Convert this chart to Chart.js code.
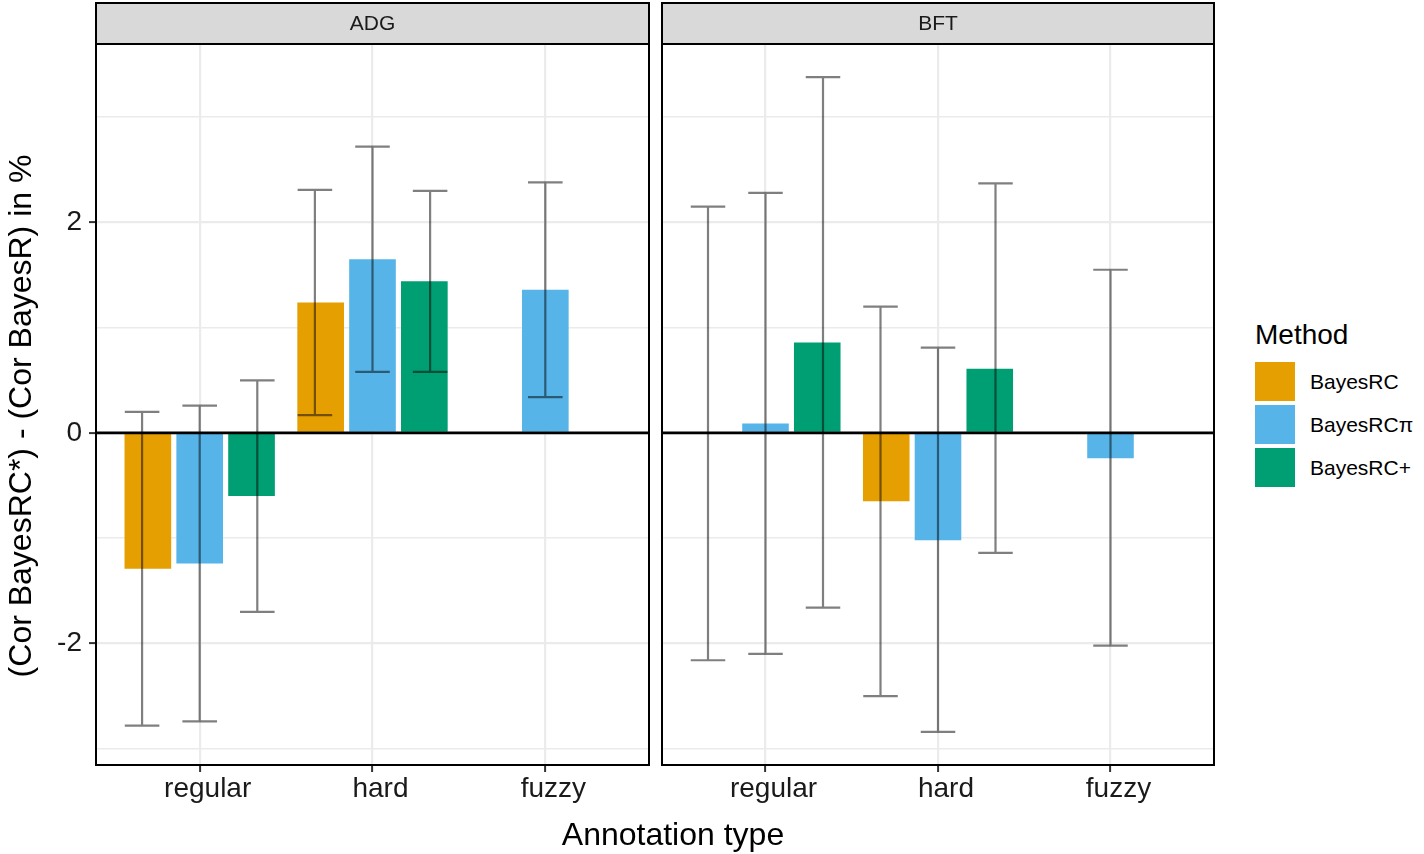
<!DOCTYPE html>
<html>
<head>
<meta charset="utf-8">
<script src="https://cdn.jsdelivr.net/npm/chart.js@4.4.1/dist/chart.umd.min.js"></script>
<style>
  body{margin:0;background:#fff;width:1424px;height:854px;position:relative;overflow:hidden;
       font-family:"Liberation Sans",Arial,Helvetica,sans-serif;color:#000}
  canvas{position:absolute;top:0}
  #cA{left:0}
  #cB{left:656px}
  #xtitle{position:absolute;left:0;width:1346px;top:818px;text-align:center;font-size:32px;line-height:32px}
  #ytitle{position:absolute;left:20px;top:416px;width:700px;margin-left:-350px;margin-top:-16px;
          text-align:center;font-size:32px;line-height:32px;transform:rotate(-90deg);white-space:nowrap}
  .leg{position:absolute;white-space:nowrap}
</style>
</head>
<body>
<canvas id="cA" width="656" height="854"></canvas>
<canvas id="cB" width="565" height="854"></canvas>
<div id="xtitle">Annotation type</div>
<div id="ytitle">(Cor BayesRC*) - (Cor BayesR) in %</div>
<div id="legend"></div>
<script>
// ---- data ----
const categories = ['regular', 'hard', 'fuzzy'];
const methods = ['BayesRC', 'BayesRCπ', 'BayesRC+'];
const panels = ['ADG', 'BFT'];
const colors = ['#E69F00', '#56B4E9', '#009E73'];

// ADG: mean difference and interval per method (regular, hard, fuzzy)
const adgBayesRC      = [-1.29, 1.24, null];
const adgBayesRCpi    = [-1.24, 1.65, 1.36];
const adgBayesRCplus  = [-0.60, 1.44, null];
const adgLowBayesRC     = [-2.78, 0.17, null];
const adgHighBayesRC    = [ 0.20, 2.31, null];
const adgLowBayesRCpi   = [-2.74, 0.58, 0.34];
const adgHighBayesRCpi  = [ 0.26, 2.72, 2.38];
const adgLowBayesRCplus = [-1.70, 0.58, null];
const adgHighBayesRCplus= [ 0.50, 2.30, null];

// BFT
const bftBayesRC      = [-0.01, -0.65, null];
const bftBayesRCpi    = [ 0.09, -1.02, -0.24];
const bftBayesRCplus  = [ 0.86,  0.61, null];
const bftLowBayesRC     = [-2.16, -2.50, null];
const bftHighBayesRC    = [ 2.15,  1.20, null];
const bftLowBayesRCpi   = [-2.10, -2.84, -2.02];
const bftHighBayesRCpi  = [ 2.28,  0.81,  1.55];
const bftLowBayesRCplus = [-1.66, -1.14, null];
const bftHighBayesRCplus= [ 3.38,  2.37, null];

const xTicks = [1, 2, 3];
const yTicks = [-3, -2, -1, 0, 1, 2, 3];
const yLabeled = [-2, 0, 2];

// ---- style ----
const DODGE = 1 / 3;     // error-bar dodge in x units
const CAP = 0.2;         // error-bar cap width in x units
const GRID = '#EBEBEB';
Chart.defaults.font.family = '"Liberation Sans", Arial, Helvetica, sans-serif';
Chart.defaults.color = '#1a1a1a';

const panelDeco = {
  id: 'panelDeco',
  afterDatasetsDraw(chart, args, opts) {
    const {ctx, chartArea: a, scales: {x, y}} = chart;
    ctx.save();
    const y0 = y.getPixelForValue(0);
    ctx.strokeStyle = '#000'; ctx.lineWidth = 2.7;
    ctx.beginPath(); ctx.moveTo(a.left, y0); ctx.lineTo(a.right, y0); ctx.stroke();

    ctx.strokeStyle = 'rgba(0,0,0,0.5)'; ctx.lineWidth = 2.2;
    opts.lows.forEach((lows, i) => {
      lows.forEach((lo, j) => {
        const hi = opts.highs[i][j];
        if (lo == null || hi == null) return;
        const xv = xTicks[j] + (i - 1) * DODGE;
        const px = x.getPixelForValue(xv);
        const hw = x.getPixelForValue(xv + CAP / 2) - px;
        const yl = y.getPixelForValue(lo), yh = y.getPixelForValue(hi);
        ctx.beginPath();
        ctx.moveTo(px - hw, yh); ctx.lineTo(px + hw, yh);
        ctx.moveTo(px, yh); ctx.lineTo(px, yl);
        ctx.moveTo(px - hw, yl); ctx.lineTo(px + hw, yl);
        ctx.stroke();
      });
    });

    ctx.strokeStyle = '#000'; ctx.lineWidth = 2;
    ctx.strokeRect(a.left, a.top, a.width, a.height);
    // strip
    ctx.fillStyle = '#D9D9D9';
    ctx.fillRect(a.left, 3, a.width, a.top - 3);
    ctx.strokeRect(a.left, 3, a.width, a.top - 3);
    ctx.fillStyle = '#1a1a1a';
    ctx.font = '21px "Liberation Sans", Arial, sans-serif';
    ctx.textAlign = 'center'; ctx.textBaseline = 'middle';
    ctx.fillText(opts.label, (a.left + a.right) / 2, (3 + a.top) / 2 + 1);
    ctx.restore();
  }
};

function makePanel(id, label, means, lows, highs, showY) {
  const datasets = methods.map((m, i) => ({
    label: m,
    data: means[i].map((v, j) => ({x: xTicks[j], y: v})),
    backgroundColor: colors[i],
    borderWidth: 0,
    barPercentage: 0.9,
    categoryPercentage: 0.9
  }));
  return new Chart(document.getElementById(id), {
    type: 'bar',
    data: {datasets},
    options: {
      responsive: false,
      animation: false,
      layout: {padding: showY ? {top: 44, right: 7, left: 0, bottom: 0} : {top: 44, right: 7, left: 6, bottom: 0}},
      plugins: {
        legend: {display: false},
        tooltip: {enabled: false},
        panelDeco: {label, lows, highs}
      },
      scales: {
        x: {
          type: 'linear', min: 0.4, max: 3.6, offset: false,
          afterBuildTicks: s => { s.ticks = xTicks.map(v => ({value: v})); },
          afterFit: s => { s.height = 89; },
          border: {display: false},
          grid: {offset: false, color: GRID, lineWidth: 2.2, tickColor: '#333', tickLength: 7, tickWidth: 2},
          ticks: {autoSkip: false, maxRotation: 0, padding: 0, labelOffset: 8, color: '#1a1a1a',
                  font: {size: 28}, callback: v => categories[xTicks.indexOf(v)]}
        },
        y: {
          min: -3.155, max: 3.695,
          afterBuildTicks: s => { s.ticks = yTicks.map(v => ({value: v})); },
          afterFit: s => { s.width = showY ? 96 : 0; },
          border: {display: false},
          grid: {
            color: GRID,
            lineWidth: c => (c.tick && yLabeled.includes(c.tick.value)) ? 2.2 : 1.4,
            drawTicks: showY,
            tickLength: 7, tickWidth: 2,
            tickColor: c => (c.tick && yLabeled.includes(c.tick.value)) ? '#333' : 'rgba(0,0,0,0)'
          },
          ticks: {display: showY, padding: 7, color: '#1a1a1a', font: {size: 28},
                  callback: v => yLabeled.includes(v) ? String(v) : ''}
        }
      }
    },
    plugins: [panelDeco]
  });
}

makePanel('cA', panels[0],
  [adgBayesRC, adgBayesRCpi, adgBayesRCplus],
  [adgLowBayesRC, adgLowBayesRCpi, adgLowBayesRCplus],
  [adgHighBayesRC, adgHighBayesRCpi, adgHighBayesRCplus], true);
makePanel('cB', panels[1],
  [bftBayesRC, bftBayesRCpi, bftBayesRCplus],
  [bftLowBayesRC, bftLowBayesRCpi, bftLowBayesRCplus],
  [bftHighBayesRC, bftHighBayesRCpi, bftHighBayesRCplus], false);

// ---- legend ----
const leg = document.getElementById('legend');
let html = '<div class="leg" style="left:1255px;top:321px;font-size:28px;line-height:28px">Method</div>';
methods.forEach((m, i) => {
  const top = 362 + i * 43;
  html += `<div class="leg" style="left:1255px;top:${top}px;width:40px;height:39px;background:${colors[i]}"></div>`;
  html += `<div class="leg" style="left:1310px;top:${top}px;font-size:21px;line-height:39px">${m}</div>`;
});
leg.innerHTML = html;
</script>
</body>
</html>
